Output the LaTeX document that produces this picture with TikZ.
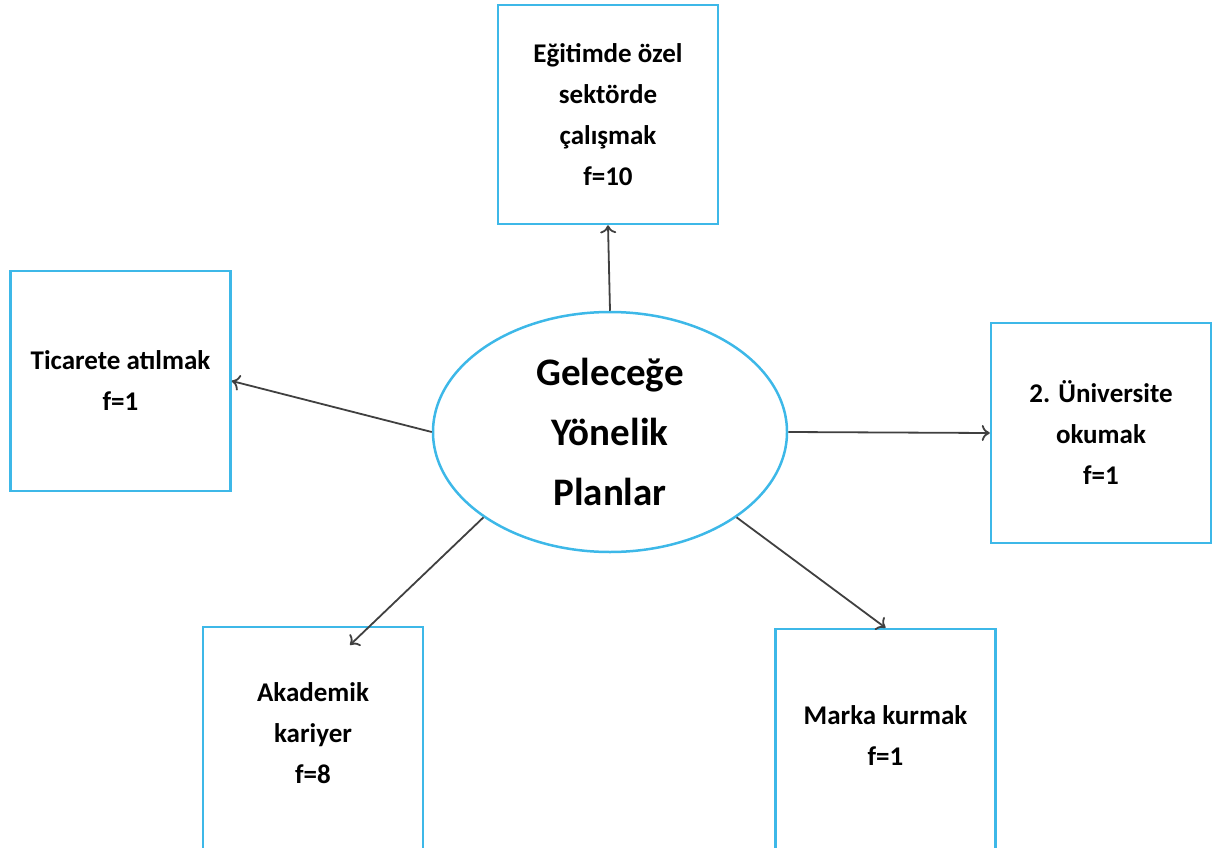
\documentclass[tikz,border=0pt]{standalone}
\usepackage{fontspec}
\setmainfont{Carlito}
\usetikzlibrary{shapes.geometric,arrows.meta}
\definecolor{boxblue}{HTML}{3DB8E8}
\definecolor{arrowgray}{HTML}{404040}
\tikzset{
  planbox/.style={draw=boxblue, line width=2.5pt, minimum width=220pt, inner sep=0pt,
    align=center, font=\bfseries\fontsize{27}{41}\selectfont},
  centre/.style={draw=boxblue, line width=2.5pt, ellipse, minimum width=354pt, minimum height=240pt,
    inner sep=0pt, align=center, font=\bfseries\fontsize{39}{60}\selectfont},
  link/.style={draw=arrowgray, line width=1.8pt, -{To[length=8pt,width=16pt,line width=1.8pt]}}
}
\begin{document}
\begin{tikzpicture}[x=1pt,y=-1pt]
\useasboundingbox (0,0) rectangle (1212,848);
\node[centre] (ell) at (610,432) {Geleceğe\\Yönelik\\Planlar};
\node[planbox, minimum height=219pt] (top) at (608,114.5) {Eğitimde özel\\sektörde\\çalışmak\\f=10};
\node[planbox, minimum height=220pt] (tic) at (120.5,381) {Ticarete atılmak\\f=1};
\node[planbox, minimum height=220pt] (uni) at (1101,433) {2. Üniversite\\okumak\\f=1};
\node[planbox, minimum height=228pt] (aka) at (313,741) {Akademik\\kariyer\\f=8\\[-25pt]};
\node[planbox, minimum height=228pt] (mar) at (885.5,743) {Marka kurmak\\f=1\\[-26pt]};
\coordinate (akend) at (350,645);
\draw[link] (ell.90) -- (top.south);
\draw[link] (ell.180) -- (tic.east);
\draw[link] (ell.0) -- (uni.west);
\draw[link] (ell.214) -- (akend);
\draw[link] (ell.326) -- (mar.north);
\end{tikzpicture}
\end{document}
